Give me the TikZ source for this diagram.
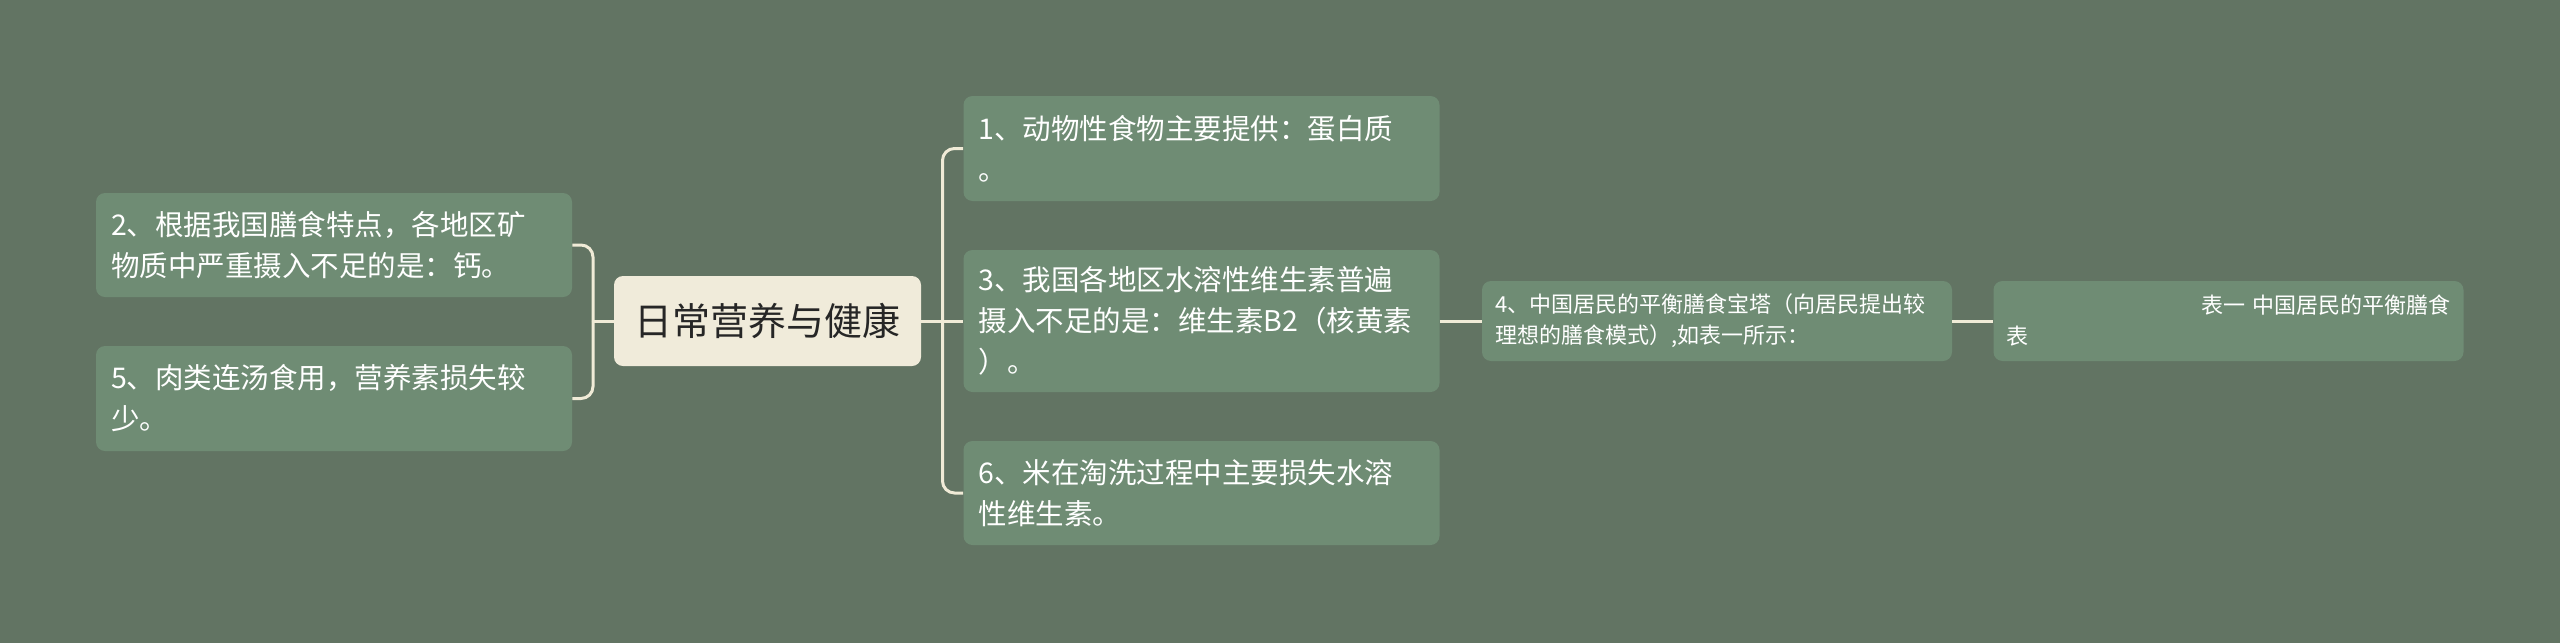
\documentclass[tikz,border=0pt]{standalone}
\usepackage{fontspec}
\setmainfont{Noto Sans CJK SC}

\definecolor{bgcol}{RGB}{98,116,99}
\definecolor{boxcol}{RGB}{111,140,116}
\definecolor{rootcol}{RGB}{240,235,218}
\definecolor{linecol}{RGB}{240,235,215}
\definecolor{roottext}{RGB}{38,38,38}

\tikzset{every picture/.style={line width=0.75pt}}
\tikzset{
  rootbox/.style={fill=rootcol, rounded corners=9, minimum width=307, minimum height=90,
    inner sep=0pt, text=roottext, font=\fontsize{38}{44}\selectfont},
  topicbox/.style={fill=boxcol, rounded corners=9, minimum width=476, minimum height=#1,
    inner xsep=15, inner ysep=0pt, text width=446, align=left, text=white,
    font=\fontsize{28.5}{41}\selectfont},
  smallbox/.style={fill=boxcol, rounded corners=9, minimum width=470, minimum height=80,
    inner xsep=13, inner ysep=0pt, text width=444, align=left, text=white,
    font=\fontsize{22}{31}\selectfont},
  link/.style={draw=linecol, line width=3pt, rounded corners=12},
}

\begin{document}
\begin{tikzpicture}[x=1pt,y=1pt,yscale=-1]
\fill[bgcol] (0,0) rectangle (2560,643);
\useasboundingbox (0,0) rectangle (2560,643);

% Root Node
\node[rootbox] (root) at (767.5,321) {日常营养与健康};

% Left Nodes
\node[topicbox=104] (n2) at (334,245) {2、根据我国膳食特点，各地区矿\\物质中严重摄入不足的是：钙。};
\node[topicbox=105] (n5) at (334,398.5) {5、肉类连汤食用，营养素损失较\\少。};

% Right Nodes
\node[topicbox=105] (n1) at (1201.5,148.5) {1、动物性食物主要提供：蛋白质\\。};
\node[topicbox=142] (n3) at (1201.5,321) {3、我国各地区水溶性维生素普遍\\摄入不足的是：维生素B2（核黄素\\）。};
\node[topicbox=104] (n6) at (1201.5,493) {6、米在淘洗过程中主要损失水溶\\性维生素。};

% Far Right Nodes
\node[smallbox] (n4) at (1717,321) {4、中国居民的平衡膳食宝塔（向居民提出较\\理想的膳食模式）,如表一所示：};
\node[smallbox] (n7) at (2228.5,321) {\hfill 表一 中国居民的平衡膳食\\表};

% Connectors
\coordinate (ljoin) at (593,321);
\coordinate (rjoin) at (942.5,321);
\draw[link] (root.west) -- (ljoin);
\draw[link] (ljoin) |- (n2.east);
\draw[link] (ljoin) |- (n5.east);
\draw[link] (root.east) -- (rjoin);
\draw[link] (rjoin) |- (n1.west);
\draw[link] (rjoin) |- (n6.west);
\draw[link] (rjoin) -- (n3.west);
\draw[link] (n3.east) -- (n4.west);
\draw[link] (n4.east) -- (n7.west);

\end{tikzpicture}
\end{document}
